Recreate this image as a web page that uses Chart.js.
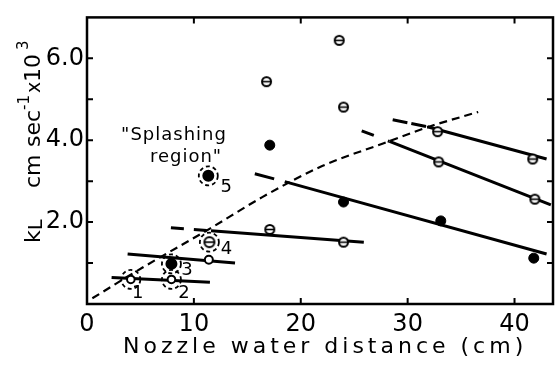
<!DOCTYPE html>
<html>
<head>
<meta charset="utf-8">
<script src="https://cdn.jsdelivr.net/npm/chart.js@4.4.1/dist/chart.umd.min.js"></script>
<style>
  html, body { margin: 0; padding: 0; background: #fff; }
  #wrap { width: 560px; height: 372px; }
</style>
</head>
<body>
<div id="wrap"><canvas id="c" width="560" height="372"></canvas></div>
<script>
// ---- axis ticks ----
const xTickValues = [0, 10, 20, 30, 40];
const yTickValues = [2, 4, 6];
const yTickLabels = ['2.0', '4.0', '6.0'];
const yMinorTicks = [1, 2, 3, 4, 5, 6];

// ---- measurements: x = nozzle-water distance (cm), y = kL (cm/s x10^3) ----
const openX   = [16.8, 23.6, 24.0, 17.1, 24.0, 32.8, 41.7, 32.9, 41.9];
const openY   = [5.43, 6.44, 4.81, 1.82, 1.51, 4.21, 3.54, 3.47, 2.56];
const smallOpenX = [11.4];
const smallOpenY = [1.08];
const filledX = [17.1, 24.0, 33.1, 41.8];
const filledY = [3.88, 2.49, 2.03, 1.12];

// numbered runs (circled)
const numberedX = [4.1, 7.9, 7.9, 11.45, 11.35];
const numberedY = [0.60, 0.60, 0.98, 1.51, 3.13];
const numberedLabels = ['1', '2', '3', '4', '5'];

// ---- trend lines: first segment is the dashed extension ----
const lineAX = [2.3, 11.5];          const lineAY = [0.65, 0.53];
const lineBX = [3.8, 13.85];         const lineBY = [1.22, 1.00];
const lineCX = [7.85, 11.6, 25.9];   const lineCY = [1.86, 1.79, 1.51];
const lineDX = [15.7, 18.5, 43.0];   const lineDY = [3.18, 2.99, 1.22];
const lineEX = [25.7, 28.3, 43.4];   const lineEY = [4.23, 3.97, 2.42];
const lineFX = [28.6, 31.85, 43.0];  const lineFY = [4.50, 4.33, 3.54];

// boundary of the splashing region
const curveX = [0.5, 5.2, 11.5, 16.4, 22.0, 27.7, 32.0, 36.6];
const curveY = [0.14, 0.89, 1.84, 2.61, 3.37, 3.92, 4.33, 4.69];

const FONT = '"DejaVu Sans", "Liberation Sans", sans-serif';

const pts = (xs, ys) => xs.map((x, i) => ({ x, y: ys[i] }));

function thetaMarker(r) {
  const s = Math.ceil(r * 2 + 4);
  const cv = document.createElement('canvas');
  cv.width = s; cv.height = s;
  const c = cv.getContext('2d');
  c.strokeStyle = '#000'; c.fillStyle = '#fff'; c.lineWidth = 2;
  c.beginPath(); c.arc(s / 2, s / 2, r, 0, Math.PI * 2); c.fill(); c.stroke();
  c.lineWidth = 1.6;
  c.beginPath(); c.moveTo(s / 2 - r, s / 2); c.lineTo(s / 2 + r, s / 2); c.stroke();
  return cv;
}
const theta = thetaMarker(4.5);
const thetaBig = thetaMarker(5);

function trend(xs, ys, dash) {
  return {
    type: 'line',
    data: pts(xs, ys),
    borderColor: '#000',
    borderWidth: 3,
    pointRadius: 0,
    fill: false,
    tension: 0,
    order: 2,
    segment: dash ? { borderDash: c => (c.p0DataIndex === 0 ? dash : undefined) } : {}
  };
}

// frame, inward ticks, titles, annotations
const decorations = {
  id: 'decorations',
  afterDatasetsDraw(chart) {
    const { ctx, chartArea: a, scales: { x, y } } = chart;
    ctx.save();
    ctx.strokeStyle = '#000';
    ctx.fillStyle = '#000';

    // dashed rings round the numbered runs
    const meta = chart.getDatasetMeta(chart.data.datasets.findIndex(d => d.label === 'numbered'));
    const offsets = [[7, 14], [12.5, 14], [15.5, 6], [17, 7], [18, 11]];
    ctx.lineWidth = 1.8;
    ctx.setLineDash([4, 3]);
    meta.data.forEach(p => {
      ctx.beginPath(); ctx.arc(p.x, p.y, 9.5, 0, Math.PI * 2); ctx.stroke();
    });
    ctx.setLineDash([]);
    ctx.font = `18px ${FONT}`;
    ctx.textAlign = 'center'; ctx.textBaseline = 'middle';
    meta.data.forEach((p, i) => {
      ctx.fillText(numberedLabels[i], p.x + offsets[i][0], p.y + offsets[i][1]);
    });

    // frame
    ctx.lineWidth = 2.5;
    ctx.strokeRect(a.left, a.top, a.right - a.left, a.bottom - a.top);

    // inward tick marks
    ctx.lineWidth = 2;
    ctx.beginPath();
    xTickValues.forEach(v => {
      if (v <= 0) return;
      const px = x.getPixelForValue(v);
      ctx.moveTo(px, a.bottom); ctx.lineTo(px, a.bottom - 6);
      ctx.moveTo(px, a.top); ctx.lineTo(px, a.top + 6);
    });
    yMinorTicks.forEach(v => {
      const py = y.getPixelForValue(v);
      ctx.moveTo(a.left, py); ctx.lineTo(a.left + 6, py);
      ctx.moveTo(a.right, py); ctx.lineTo(a.right - 6, py);
    });
    ctx.stroke();

    // region label
    ctx.font = `18px ${FONT}`;
    ctx.letterSpacing = '1px';
    ctx.textAlign = 'center'; ctx.textBaseline = 'alphabetic';
    ctx.fillText('"Splashing', 174, 140);
    ctx.fillText('region"', 186, 162);

    // x title
    ctx.font = `22px ${FONT}`;
    ctx.letterSpacing = '4px';
    ctx.textAlign = 'left';
    ctx.fillText('Nozzle water distance (cm)', 123, 353);
    ctx.letterSpacing = '0px';

    // y title, rotated
    ctx.translate(40, 243);
    ctx.rotate(-Math.PI / 2);
    const parts = [
      ['k', 0, 0, 22], ['L', 13, 2, 19], ['cm', 55, 0, 22], ['sec', 96, 0, 22],
      ['-1', 133, -11, 15], ['x', 150, 0, 19], ['10', 161, 0, 22], ['3', 193, -12, 15]
    ];
    parts.forEach(([t, tx, dy, sz]) => {
      ctx.font = `${sz}px ${FONT}`;
      ctx.fillText(t, tx, dy);
    });
    ctx.restore();
  }
};

new Chart(document.getElementById('c'), {
  type: 'scatter',
  data: {
    datasets: [
      {
        label: 'open', data: pts(openX, openY), showLine: false,
        pointStyle: theta, pointRadius: 5, order: 0
      },
      {
        label: 'small open', data: pts(smallOpenX, smallOpenY), showLine: false,
        pointStyle: 'circle', pointRadius: 4, pointBorderWidth: 2,
        pointBackgroundColor: '#fff', pointBorderColor: '#000', order: 0
      },
      {
        label: 'filled', data: pts(filledX, filledY), showLine: false,
        pointStyle: 'circle', pointRadius: 5, pointBorderWidth: 1,
        pointBackgroundColor: '#000', pointBorderColor: '#000', order: 0
      },
      {
        label: 'numbered', data: pts(numberedX, numberedY), showLine: false,
        pointStyle: ['circle', 'circle', 'circle', thetaBig, 'circle'],
        pointRadius: [3.8, 3.8, 5, 5, 5], pointBorderWidth: 2,
        pointBackgroundColor: ['#fff', '#fff', '#000', '#fff', '#000'],
        pointBorderColor: '#000', order: 0
      },
      trend(lineAX, lineAY),
      trend(lineBX, lineBY),
      trend(lineCX, lineCY, [13, 10]),
      trend(lineDX, lineDY, [20, 12]),
      trend(lineEX, lineEY, [13, 15]),
      trend(lineFX, lineFY, [15, 4]),
      {
        type: 'line', label: 'boundary', data: pts(curveX, curveY),
        borderColor: '#000', borderWidth: 2.2, borderDash: [8, 5],
        pointRadius: 0, fill: false, cubicInterpolationMode: 'monotone', order: 3
      }
    ]
  },
  options: {
    responsive: false,
    devicePixelRatio: 1,
    animation: false,
    events: [],
    layout: { padding: { top: 13, right: 1, left: 0, bottom: 0 } },
    plugins: { legend: { display: false }, tooltip: { enabled: false } },
    scales: {
      x: {
        type: 'linear', min: 0, max: 43.6,
        afterBuildTicks: s => { s.ticks = xTickValues.map(v => ({ value: v })); },
        afterFit: s => { s.height = 68; },
        ticks: {
          color: '#000', font: { family: FONT, size: 24 }, padding: 6,
          maxRotation: 0, autoSkip: false, callback: v => String(v)
        },
        grid: { display: false, drawTicks: false },
        border: { display: false }
      },
      y: {
        type: 'linear', min: 0, max: 7,
        afterBuildTicks: s => { s.ticks = yTickValues.map(v => ({ value: v })); },
        afterFit: s => { s.width = 87; },
        ticks: {
          color: '#000', font: { family: FONT, size: 24 }, padding: 3,
          autoSkip: false, callback: (v, i) => yTickLabels[i]
        },
        grid: { display: false, drawTicks: false },
        border: { display: false }
      }
    }
  },
  plugins: [decorations]
});
</script>
</body>
</html>
